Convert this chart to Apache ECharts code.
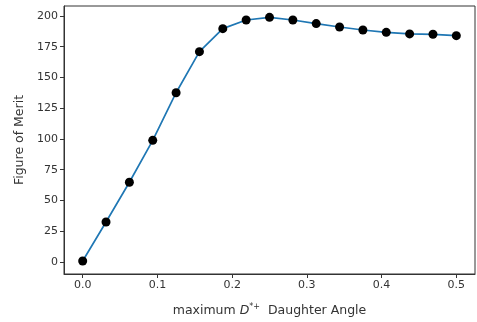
<!DOCTYPE html>
<html><head><meta charset="utf-8">
<script src="https://cdn.jsdelivr.net/npm/echarts@6/dist/echarts.min.js"></script>
<style>html,body{margin:0;padding:0;background:#fff}#c{width:477px;height:322px}</style>
</head><body><div id="c"></div>
<script>
const angles = [0, 0.03125, 0.0625, 0.09375, 0.125, 0.15625, 0.1875, 0.21875, 0.25, 0.28125, 0.3125, 0.34375, 0.375, 0.40625, 0.4375, 0.46875, 0.5];
const merit = [0.8, 32.5, 64.8, 98.9, 137.6, 171, 189.7, 196.7, 198.9, 196.7, 193.8, 191, 188.6, 186.7, 185.4, 185.1, 184];
const xTicks = [0, 0.1, 0.2, 0.3, 0.4, 0.5];
const yTicks = [0, 25, 50, 75, 100, 125, 150, 175, 200];

const font = 'DejaVu Sans';
const chart = echarts.init(document.getElementById('c'), null, {renderer: 'canvas'});
chart.setOption({
  animation: false,
  backgroundColor: '#fff',
  grid: {left: 64, right: 2, top: 6, bottom: 48, show: true, borderColor: '#333', borderWidth: 1, backgroundColor: 'transparent'},
  xAxis: {
    type: 'value', min: -0.025, max: 0.525,
    axisLine: {show: true, onZero: false, lineStyle: {color: '#333'}},
    axisTick: {show: true, length: 4, customValues: xTicks, lineStyle: {color: '#333'}},
    axisLabel: {customValues: xTicks, formatter: v => v.toFixed(1), fontFamily: font, fontSize: 11, color: '#333', margin: 6},
    splitLine: {show: false},
    name: '{n|maximum }{i|D}{s|*+}{n|  Daughter Angle}',
    nameLocation: 'middle', nameGap: 29,
    nameTextStyle: {rich: {
      n: {fontFamily: font, fontSize: 12.5, color: '#333'},
      i: {fontFamily: font, fontSize: 12.5, fontStyle: 'italic', color: '#333'},
      s: {fontFamily: font, fontSize: 8, color: '#333', verticalAlign: 'top', padding: [0,0,7,0]}
    }}
  },
  yAxis: {
    type: 'value', min: -9.8, max: 208.1,
    axisLine: {show: true, onZero: false, lineStyle: {color: '#333'}},
    axisTick: {show: true, length: 4, customValues: yTicks, lineStyle: {color: '#333'}},
    axisLabel: {customValues: yTicks, fontFamily: font, fontSize: 11, color: '#333', margin: 6},
    splitLine: {show: false},
    name: 'Figure of Merit', nameLocation: 'middle', nameGap: 37,
    nameTextStyle: {fontFamily: font, fontSize: 12.5, color: '#333'}
  },
  series: [
    {type: 'line', data: angles.map((a, i) => [a, merit[i]]), showSymbol: false, symbol: 'none',
     lineStyle: {color: '#1f77b4', width: 1.7}, z: 2},
    {type: 'scatter', data: angles.map((a, i) => [a, merit[i]]), symbol: 'circle', symbolSize: 9,
     itemStyle: {color: '#000', opacity: 1}, z: 3}
  ]
});
</script></body></html>
